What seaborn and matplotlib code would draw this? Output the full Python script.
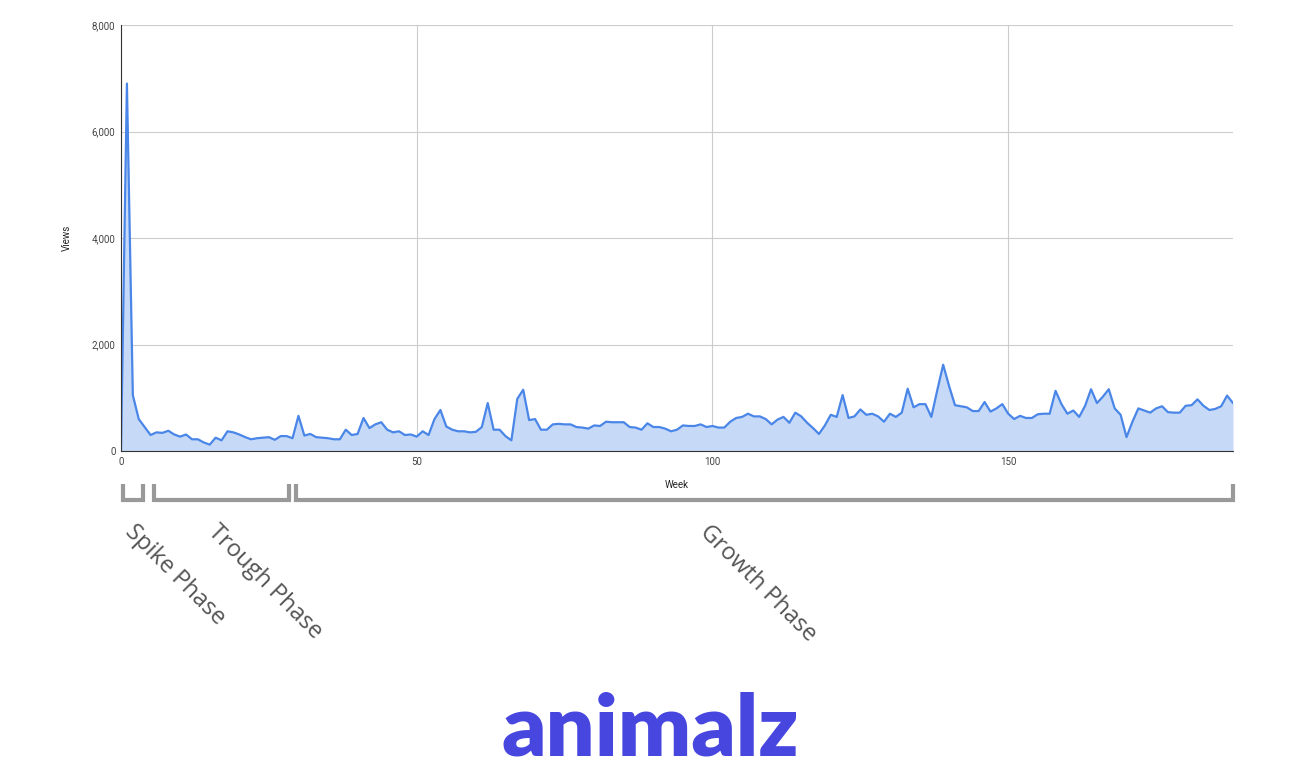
import numpy as np
import matplotlib.pyplot as plt
import seaborn as sns
from matplotlib.transforms import blended_transform_factory

views = [0, 6900, 1050, 600, 450, 300, 350, 340, 380, 310, 270, 310, 220, 220, 160, 120,
         250, 200, 370, 350, 310, 260, 220, 240, 250, 260, 210, 280, 280, 240, 660, 290,
         320, 260, 250, 240, 220, 220, 400, 300, 320, 620, 430, 500, 540, 400, 350, 370,
         300, 310, 270, 370, 300, 600, 770, 460, 400, 370, 370, 350, 360, 450, 900, 400,
         400, 280, 200, 980, 1150, 580, 600, 400, 400, 500, 510, 500, 500, 450, 440, 420,
         480, 470, 550, 540, 540, 540, 450, 440, 400, 520, 450, 450, 420, 370, 400, 480,
         470, 470, 500, 450, 470, 440, 440, 550, 620, 640, 700, 650, 650, 600, 500, 590,
         640, 530, 720, 650, 530, 430, 320, 480, 680, 640, 1050, 620, 650, 780, 680, 700,
         650, 550, 700, 640, 720, 1170, 820, 880, 880, 640, 1140, 1620, 1220, 860, 840, 820,
         750, 750, 920, 740, 800, 880, 700, 600, 660, 620, 620, 690, 700, 700, 1130, 880,
         700, 760, 640, 850, 1160, 900, 1020, 1160, 800, 680, 260, 550, 800, 760, 720, 800,
         840, 730, 720, 720, 850, 860, 970, 850, 770, 790, 840, 1040, 900]
weeks = np.arange(len(views))

phase_names = ["Spike Phase", "Trough Phase", "Growth Phase"]
phase_spans = [(0.3, 3.8), (5.5, 28.4), (29.6, 188.0)]
phase_label_x = [137, 220, 712]  # pixel x of label start

sns.set_style("white")
plt.rcParams['font.family'] = ['Roboto', 'DejaVu Sans']

fig = plt.figure(figsize=(13, 7.8), dpi=100)
ax = fig.add_axes([121 / 1300, 1 - 451 / 780, (1233 - 121) / 1300, (451 - 25) / 780])

line_c = "#4a86e8"
ax.fill_between(weeks, views, color="#c6daf8", lw=0)
sns.lineplot(x=weeks, y=views, ax=ax, color=line_c, lw=1.6)

ax.set_xlim(0, 188)
ax.set_ylim(0, 8000)
ax.set_xticks([0, 50, 100, 150])
ax.set_yticks(range(0, 8001, 2000))
ax.yaxis.set_major_formatter(plt.FuncFormatter(lambda v, p: f"{int(v):,}"))
ax.grid(True, color="#cccccc", lw=0.8)
ax.tick_params(labelsize=7, colors="#444444", length=0, pad=4)
for s in ["top", "right"]:
    ax.spines[s].set_visible(False)
ax.spines["left"].set_color("#333333")
ax.spines["bottom"].set_color("#333333")
ax.set_xlabel("Week", fontsize=7, color="#222222", labelpad=10)
ax.set_ylabel("Views", fontsize=7, color="#222222", labelpad=14)

# phase brackets
tr = blended_transform_factory(ax.transData, fig.transFigure)
yb = 1 - 500 / 780
yt = 1 - 484 / 780
for x0, x1 in phase_spans:
    ax.plot([x0, x0, x1, x1], [yt, yb, yb, yt], transform=tr, color="#999999",
            lw=3, clip_on=False, solid_joinstyle="miter", solid_capstyle="butt")

for name, px in zip(phase_names, phase_label_x):
    fig.text(px / 1300, 1 - 520 / 780, name, rotation=-45, rotation_mode="anchor",
             ha="left", va="top", fontsize=17, color="#555555",
             family=["Open Sans", "DejaVu Sans"])

fig.text(0.5, 1 - 730 / 780, "animalz", ha="center", va="center", fontsize=62,
         fontweight="heavy", color="#4747e0", family=["Lato", "DejaVu Sans"])

fig.savefig("out.png", dpi=100)
